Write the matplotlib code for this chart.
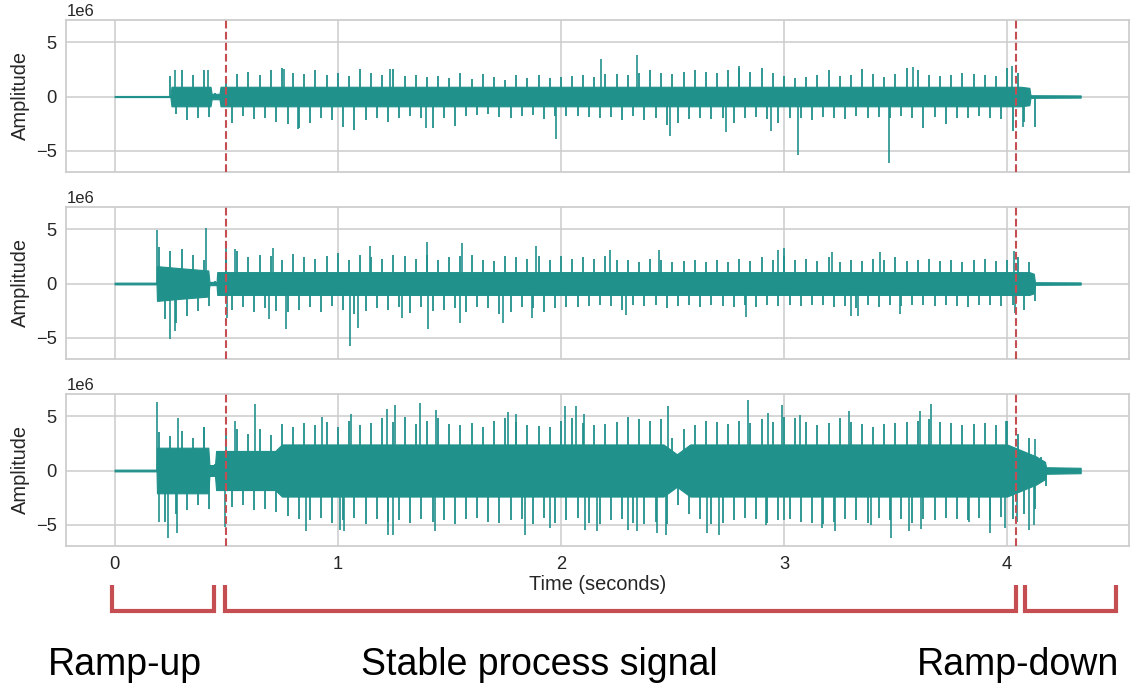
import numpy as np
import matplotlib
matplotlib.use("Agg")
import matplotlib.pyplot as plt
import matplotlib.transforms as mtransforms

plt.rcParams['font.family'] = ['Liberation Sans', 'DejaVu Sans']
plt.rcParams['text.color'] = '#262626'
plt.rcParams['axes.labelcolor'] = '#262626'
plt.rcParams['xtick.color'] = '#262626'
plt.rcParams['ytick.color'] = '#262626'

# --- data (amplitudes in units of 1e6) ---
# typical peak values, one per 0.05 s from 0.00 to 4.30 s
grid_step = 0.05
p1_hi = [0, 0, 0, 0, 0, 1.9, 2.4, 2.0, 2.4, 0.3,
         1.8, 2.1, 2.3, 2.0, 2.4, 2.6, 2.2, 2.1, 2.4, 2.0,
         2.2, 1.9, 2.5, 2.2, 2.0, 2.5, 1.9, 2.0, 1.8, 1.9,
         1.7, 2.2, 1.6, 2.1, 1.8, 1.5, 2.0, 1.7, 2.0, 1.7,
         1.8, 1.9, 2.0, 1.8, 2.1, 2.1, 2.0, 2.2, 2.4, 2.2,
         2.1, 2.3, 2.4, 2.3, 2.2, 2.4, 2.6, 2.3, 2.6, 2.2,
         1.9, 1.7, 1.8, 2.0, 2.4, 1.9, 2.0, 2.5, 2.1, 1.8,
         2.1, 2.6, 2.4, 2.0, 1.9, 2.0, 2.2, 2.1, 2.0, 1.9,
         2.6, 2.2, 0.8, 0, 0, 0, 0]
p1_lo = [0, 0, 0, 0, 0, -1.6, -2.2, -2.0, -1.9, -0.3,
         -2.4, -1.8, -2.1, -2.0, -2.3, -2.5, -2.9, -2.4, -2.0, -2.2,
         -2.8, -3.1, -2.2, -2.0, -2.3, -2.0, -1.8, -2.0, -2.9, -2.0,
         -2.7, -1.8, -1.7, -1.6, -1.9, -2.0, -1.8, -1.7, -2.1, -1.8,
         -1.8, -1.8, -1.9, -2.0, -1.9, -2.2, -1.8, -2.2, -2.0, -2.6,
         -2.4, -2.1, -2.0, -2.1, -2.0, -2.4, -2.0, -1.9, -2.1, -2.4,
         -2.0, -2.0, -2.2, -1.9, -2.0, -2.1, -1.8, -2.0, -1.9, -2.0,
         -1.8, -2.0, -2.9, -1.9, -2.5, -2.0, -2.0, -1.8, -2.0, -2.1,
         -3.2, -2.3, -2.8, 0, 0, 0, 0]

p2_hi = [0, 0, 0, 0, 3.4, 3.0, 3.2, 2.6, 2.2, 0.2,
         2.5, 3.0, 2.4, 2.6, 2.5, 2.2, 2.7, 2.4, 2.3, 2.5,
         2.8, 2.2, 2.6, 2.4, 2.3, 2.6, 2.5, 2.3, 2.6, 2.2,
         2.4, 2.5, 2.6, 2.2, 2.1, 2.5, 2.4, 2.3, 2.5, 2.2,
         2.5, 2.3, 2.4, 2.3, 2.5, 2.2, 2.2, 2.0, 2.3, 2.2,
         2.0, 2.1, 2.2, 2.0, 2.2, 2.0, 2.3, 2.1, 2.4, 2.2,
         2.5, 2.2, 2.3, 2.1, 2.4, 2.0, 2.2, 2.1, 2.3, 2.2,
         2.4, 2.1, 2.2, 2.3, 2.1, 2.2, 2.0, 2.2, 2.3, 2.1,
         2.2, 2.4, 2.0, 0, 0, 0, 0]
p2_lo = [0, 0, 0, 0, -3.3, -3.6, -3.0, -2.5, -2.1, -0.2,
         -2.4, -2.2, -2.6, -2.3, -2.5, -2.6, -2.4, -2.2, -2.6, -2.1,
         -2.4, -2.8, -2.5, -2.3, -2.4, -2.2, -2.7, -2.2, -2.5, -2.4,
         -2.3, -2.6, -2.2, -2.3, -2.8, -2.6, -2.2, -2.3, -2.6, -2.3,
         -2.2, -2.2, -2.1, -2.0, -2.1, -2.4, -2.0, -2.1, -2.0, -2.3,
         -2.1, -2.0, -2.2, -2.0, -2.1, -2.2, -2.0, -2.2, -2.0, -2.1,
         -2.0, -2.1, -2.0, -2.0, -2.2, -2.1, -2.3, -2.0, -2.2, -2.0,
         -2.1, -2.0, -2.0, -2.1, -2.0, -2.1, -2.2, -2.0, -2.0, -2.1,
         -2.0, -2.4, -1.6, 0, 0, 0, 0]

p3_hi = [0, 0, 0, 0, 3.5, 3.2, 3.6, 3.0, 4.0, 0.6,
         3.5, 3.8, 3.4, 3.8, 3.3, 4.3, 4.0, 4.4, 4.2, 4.5,
         4.0, 4.6, 4.2, 4.4, 4.8, 4.5, 4.9, 4.3, 4.6, 4.8,
         4.3, 4.2, 4.4, 4.0, 4.6, 4.8, 4.5, 4.2, 4.1, 4.0,
         4.6, 4.8, 4.4, 4.2, 4.3, 4.5, 4.9, 4.7, 4.6, 4.7,
         3.0, 3.8, 4.2, 4.6, 4.5, 4.3, 4.6, 4.4, 4.7, 4.5,
         4.9, 4.8, 4.5, 4.2, 4.4, 4.8, 4.5, 4.3, 4.0, 4.3,
         4.4, 4.5, 4.6, 4.7, 4.5, 4.4, 4.2, 4.3, 4.4, 4.2,
         4.6, 3.4, 3.0, 1.2, 0, 0, 0]
p3_lo = [0, 0, 0, 0, -4.7, -4.0, -3.6, -3.2, -3.5, -0.6,
         -3.4, -3.2, -3.6, -3.5, -3.8, -4.2, -4.5, -4.6, -4.4, -4.8,
         -4.6, -4.4, -4.9, -4.5, -4.7, -4.6, -4.8, -4.5, -4.7, -4.6,
         -4.9, -4.5, -4.4, -4.7, -4.8, -4.6, -4.5, -4.9, -4.4, -4.8,
         -4.6, -4.4, -4.8, -4.9, -4.6, -4.5, -4.8, -4.9, -4.7, -4.9,
         -3.2, -4.0, -4.5, -4.9, -4.8, -4.6, -4.4, -4.5, -4.8, -4.6,
         -4.5, -4.7, -4.8, -4.9, -4.7, -4.5, -4.6, -4.8, -4.4, -4.6,
         -4.5, -4.8, -4.5, -4.6, -4.4, -4.5, -4.6, -4.4, -4.6, -4.3,
         -4.5, -4.0, -3.5, -1.4, 0, 0, 0]

# outlying spikes: (time s, value 1e6)
p1_spike_t = [0.27, 0.42, 0.76, 0.82, 1.235, 1.395, 1.98, 2.18, 2.34, 2.49,
              2.74, 2.80, 2.94, 3.065, 3.47, 3.58, 4.02, 4.07]
p1_spike_v = [2.4, 2.4, 2.5, -3.0, 2.5, -2.9, -3.9, 3.5, 3.85, -3.6,
              -3.3, 2.8, -3.2, -5.4, -6.1, 2.7, 2.8, -2.8]
p2_spike_t = [0.19, 0.25, 0.27, 0.41, 0.50, 0.505, 0.54, 0.69, 0.71, 0.77,
              1.055, 1.09, 1.145, 1.29, 1.40, 1.405, 1.55, 1.555, 1.74, 1.87,
              1.89, 2.22, 2.29, 2.44, 2.83, 2.975, 3.0, 3.215, 3.30, 3.33,
              3.43, 3.52, 4.03, 4.035]
p2_spike_v = [4.9, -5.15, -4.4, 5.15, 3.6, -3.2, 3.2, -3.3, 3.3, -4.2,
              -5.8, -4.1, 3.5, -3.2, 3.85, -4.2, -3.6, 3.7, -3.6, -3.2,
              3.5, 3.1, -2.9, 3.1, -3.1, 3.1, 3.3, 2.9, -3.0, -3.0,
              2.9, -2.8, 3.0, -2.7]
p3_spike_t = [0.19, 0.20, 0.24, 0.28, 0.285, 0.40, 0.495, 0.54, 0.63, 0.86,
              0.93, 1.01, 1.03, 1.06, 1.22, 1.225, 1.25, 1.257, 1.37, 1.435,
              1.44, 1.765, 1.80, 1.84, 1.95, 2.02, 2.07, 2.105, 2.11, 2.16,
              2.30, 2.34, 2.43, 2.47, 2.48, 2.655, 2.71, 2.84, 2.92, 2.93,
              2.99, 3.0, 3.07, 3.17, 3.23, 3.29, 3.39, 3.48, 3.56, 3.61,
              3.615, 3.66, 3.83, 3.925, 3.99, 3.995, 4.045, 4.10, 4.12, 4.125]
p3_spike_v = [6.3, -4.7, -6.25, -5.8, 4.8, 4.0, -5.2, 4.6, 6.1, -5.6,
              4.9, -5.5, -5.6, 5.2, 5.7, -5.9, -5.9, 6.0, 6.25, -5.6,
              5.6, 5.4, 5.2, -5.9, -5.3, 5.9, 5.9, 5.2, -5.5, -5.6,
              -5.5, -5.6, -5.8, -5.9, 5.9, -5.8, -5.9, 6.5, -5.0, 5.3,
              6.0, -4.6, 5.1, -5.3, -5.6, 5.5, -5.0, -6.2, -5.6, 5.5,
              -5.4, 6.1, -4.7, -5.8, -5.3, 4.6, -4.7, -5.5, -5.0, 2.9]

# dense core band half-width (1e6) at breakpoints
p1_core_t = [0, 0.25, 0.255, 0.43, 0.435, 0.47, 0.475, 4.06, 4.10, 4.105, 4.33]
p1_core_v = [0.05, 0.05, 0.9, 0.9, 0.25, 0.25, 0.9, 0.9, 0.8, 0.12, 0.1]
p2_core_t = [0, 0.188, 0.19, 0.30, 0.42, 0.425, 0.457, 0.46, 4.10, 4.12, 4.125, 4.33]
p2_core_v = [0.08, 0.08, 1.6, 1.4, 1.2, 0.15, 0.15, 1.05, 1.05, 0.9, 0.12, 0.1]
p3_core_t = [0, 0.188, 0.19, 0.42, 0.425, 0.45, 0.455, 0.72, 0.75, 2.46, 2.52, 2.58,
             4.0, 4.13, 4.17, 4.175, 4.33]
p3_core_v = [0.08, 0.08, 2.1, 2.1, 0.5, 0.5, 1.8, 1.8, 2.4, 2.4, 1.5, 2.4,
             2.4, 1.3, 0.8, 0.3, 0.25]

markers = [0.50, 4.04]
phase_names = ['Ramp-up', 'Stable process signal', 'Ramp-down']
phase_spans = [(-0.01, 0.447), (0.495, 4.04), (4.08, 4.49)]
phase_text_x = [0.1097, 0.475, 0.897]

teal = '#21918c'
red = '#c44e52'
grey = '#cccccc'

panels = [
    (p1_hi, p1_lo, p1_spike_t, p1_spike_v, p1_core_t, p1_core_v),
    (p2_hi, p2_lo, p2_spike_t, p2_spike_v, p2_core_t, p2_core_v),
    (p3_hi, p3_lo, p3_spike_t, p3_spike_v, p3_core_t, p3_core_v),
]

fig, axes = plt.subplots(3, 1, sharex=True, figsize=(11.35, 6.84), dpi=100)
fig.subplots_adjust(left=0.0584, right=0.9947, top=0.9708, bottom=0.2018, hspace=0.23)

for ax, (hi, lo, st, sv, ct, cv) in zip(axes, panels):
    hi = np.array(hi) * 1e6
    lo = np.array(lo) * 1e6
    tg = np.arange(len(hi)) * grid_step
    keep = (hi != 0) | (lo != 0)
    ct = np.array(ct)
    cv = np.array(cv) * 1e6
    ax.fill_between(ct, -cv, cv, color=teal, lw=0.8, edgecolor=teal, zorder=3)
    # peaks at each step, troughs half a step later
    ax.vlines(tg[keep], 0, hi[keep], color=teal, lw=1.3, zorder=3)
    ax.vlines(tg[keep] + grid_step / 2, lo[keep], 0, color=teal, lw=1.3, zorder=3)
    ax.vlines(st, 0, np.array(sv) * 1e6, color=teal, lw=1.2, zorder=3)
    for m in markers:
        ax.axvline(m, color=red, ls='--', lw=1.5, zorder=4)
    ax.set_ylim(-6.95e6, 7.05e6)
    ax.set_yticks([-5e6, 0, 5e6])
    ax.set_ylabel('Amplitude', fontsize=14.4)
    ax.grid(True, color=grey, lw=1.1, zorder=0)
    ax.set_axisbelow(True)
    for s in ax.spines.values():
        s.set_color(grey)
        s.set_linewidth(1.25)
    ax.tick_params(length=0, pad=7, labelsize=13.2)
    ax.yaxis.get_offset_text().set_fontsize(12)

axes[-1].set_xlim(-0.2165, 4.5465)
axes[-1].set_xticks([0, 1, 2, 3, 4])
axes[-1].set_xlabel('Time (seconds)', fontsize=14.4, labelpad=2)

# phase brackets under the bottom panel
trans = mtransforms.blended_transform_factory(axes[-1].transData, axes[-1].transAxes)
for (x0, x1) in phase_spans:
    axes[-1].plot([x0, x0, x1, x1], [-0.257, -0.425, -0.425, -0.257], color=red, lw=3,
                  transform=trans, clip_on=False, solid_joinstyle='miter', solid_capstyle='butt')

for name, x in zip(phase_names, phase_text_x):
    fig.text(x, 0.013, name, ha='center', va='baseline', fontsize=27, color='black')

fig.savefig('out.png', dpi=100)
